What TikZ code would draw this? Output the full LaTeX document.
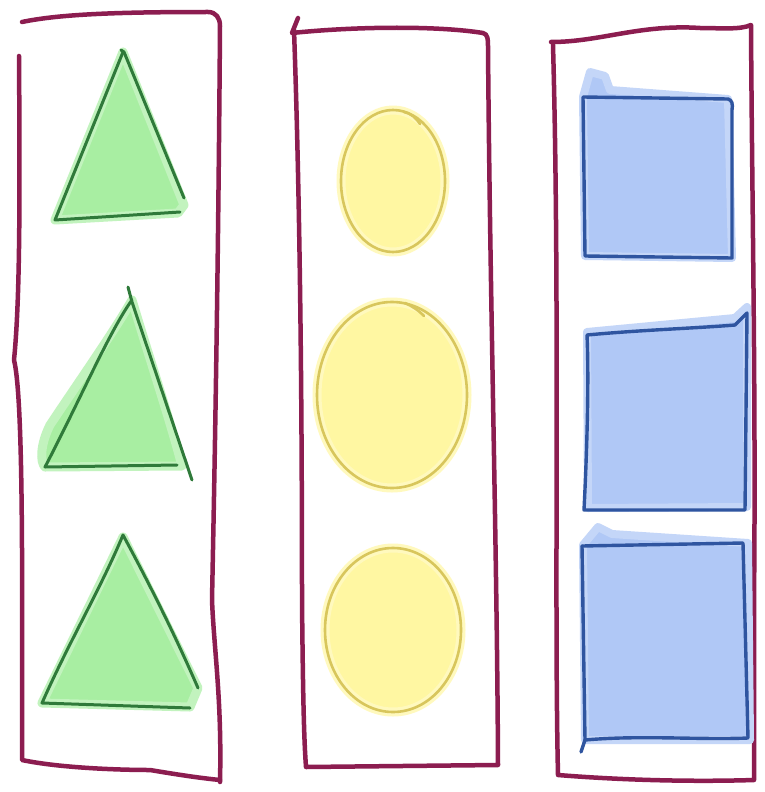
\documentclass[tikz,border=0pt]{standalone}
\begin{document}
\begin{tikzpicture}[x=1pt,y=-1pt,line join=round,line cap=round,
  frame/.style={draw=framec,line width=4.5pt},
  trihalo/.style={fill=trif,draw=trif!70,line width=9pt},
  tri/.style={draw=trid,line width=3pt},
  circhalo/.style={fill=circf,draw=circf!70,line width=9pt},
  circ/.style={draw=circd,line width=2.6pt},
  sqhalo/.style={fill=sqf,draw=sqf!75,line width=8pt},
  sq/.style={draw=sqd,line width=3.4pt}]
\definecolor{framec}{HTML}{8C1D50}
\definecolor{trid}{HTML}{2F7A3A}
\definecolor{trif}{HTML}{A8EEA2}
\definecolor{circd}{HTML}{D8C65C}
\definecolor{circf}{HTML}{FFF7A2}
\definecolor{sqd}{HTML}{2F55A0}
\definecolor{sqf}{HTML}{B0C8F6}
\useasboundingbox[fill=white] (0,0) rectangle (765,792);
% ---------- frames ----------
\draw[frame] (22,22) .. controls (60,14) and (120,12) .. (208,12) .. controls (216,12) and (220,18) .. (220,26) .. controls (218,300) and (214,500) .. (212,600) .. controls (214,650) and (222,700) .. (220,782);
\draw[frame] (19,56) .. controls (20,200) and (20,300) .. (14,360) .. controls (24,400) and (22,600) .. (22,760) .. controls (60,768) and (120,770) .. (150,770) .. controls (180,775) and (200,778) .. (220,780);
\draw[frame] (298,18) -- (292,33) .. controls (360,26) and (440,26) .. (483,33) .. controls (488,34) and (488,40) .. (488,46) .. controls (490,300) and (497,550) .. (498,765) -- (306,767) .. controls (304,740) and (303,700) .. (302,600) .. controls (302,400) and (300,200) .. (294,30);
\draw[frame] (551,42) .. controls (600,42) and (640,24) .. (700,28) .. controls (720,28) and (740,30) .. (751,25) .. controls (752,200) and (756,400) .. (754,600) -- (754,780) .. controls (690,782) and (620,780) .. (558,775) .. controls (554,600) and (560,300) .. (553,45);
% ---------- triangles ----------
\path[trihalo] (123,52) -- (184,205) -- (178,213) -- (55,220) -- cycle;
\draw[tri] (121,50) -- (124,52) -- (184,198);
\draw[tri] (123,52) -- (55,220) -- (180,212);
\path[trihalo] (132,300) .. controls (150,360) and (170,420) .. (182,466) -- (45,467) .. controls (40,462) and (40,445) .. (50,425) .. controls (80,380) and (115,330) .. (132,300) -- cycle;
\draw[tri] (128,287) -- (132,302) -- (192,480);
\draw[tri] (132,300) .. controls (110,330) and (80,400) .. (45,467) -- (177,465);
\path[trihalo] (123,537) -- (198,688) -- (190,707) -- (42,703) -- cycle;
\draw[tri] (123,535) .. controls (150,585) and (175,635) .. (198,688);
\draw[tri] (123,535) .. controls (100,590) and (70,640) .. (42,703) -- (190,708);
% ---------- circles ----------
\path[circhalo] (393,181) ellipse [x radius=52,y radius=71];
\draw[circ] (393,181) ellipse [x radius=52,y radius=71];
\draw[circ] (404,112) .. controls (412,114) and (416,118) .. (420,124);
\path[circhalo] (392,395) ellipse [x radius=75,y radius=93];
\draw[circ] (392,395) ellipse [x radius=75,y radius=93];
\draw[circ] (405,303) .. controls (412,306) and (418,310) .. (424,316);
\path[circhalo] (393,630) ellipse [x radius=68,y radius=82];
\draw[circ] (393,630) ellipse [x radius=68,y radius=82];
% ---------- squares ----------
\path[sqhalo] (583,97) -- (590,72) -- (605,76) -- (610,90) -- (728,99) -- (732,258) -- (585,256) -- cycle;
\draw[sq] (583,97) -- (728,99) .. controls (732,100) and (733,104) .. (732,110) -- (732,258) -- (585,256) -- (583,97);
\path[sqhalo] (587,332) -- (735,318) -- (747,307) -- (747,507) -- (588,508) -- cycle;
\draw[sq] (587,335) .. controls (640,330) and (700,328) .. (735,325) -- (747,313) -- (745,510) -- (584,510) .. controls (587,450) and (589,380) .. (587,335);
\path[sqhalo] (583,545) -- (598,527) -- (612,534) -- (748,543) -- (750,740) -- (585,740) -- cycle;
\draw[sq] (582,546) -- (743,543) -- (748,738) .. controls (700,740) and (640,735) .. (585,740) -- (581,752);
\draw[sq] (582,546) -- (585,740);
\end{tikzpicture}
\end{document}
